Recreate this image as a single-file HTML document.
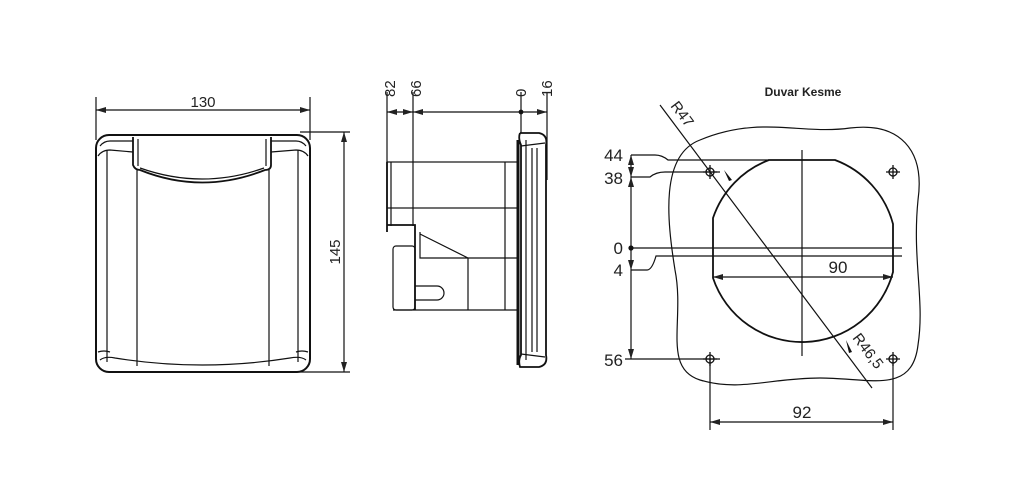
<!DOCTYPE html>
<html><head><meta charset="utf-8"><style>
html,body{margin:0;padding:0;background:#fff;width:1024px;height:498px;overflow:hidden}
svg{display:block}
text{font-family:"Liberation Sans",sans-serif;fill:#222}
</style></head><body>
<svg width="1024" height="498" viewBox="0 0 1024 498" xmlns="http://www.w3.org/2000/svg">
<defs>
<marker id="a" viewBox="0 0 10 6" refX="10" refY="3" markerWidth="10" markerHeight="6" orient="auto-start-reverse" markerUnits="userSpaceOnUse"><path d="M0,0 L10,3 L0,6 Z" fill="#222"/></marker>
</defs>
<g fill="none" stroke="#111" stroke-width="1.2">
<!-- LEFT FRONT VIEW -->
<line x1="96" y1="97" x2="96" y2="140"/><line x1="310" y1="97" x2="310" y2="140"/>
<line x1="96" y1="110" x2="310" y2="110" marker-start="url(#a)" marker-end="url(#a)"/>
<line x1="300" y1="132" x2="350" y2="132"/><line x1="300" y1="372" x2="350" y2="372"/>
<line x1="344" y1="132" x2="344" y2="372" marker-start="url(#a)" marker-end="url(#a)"/>
<rect x="96" y="135" width="214" height="237" rx="13" stroke-width="2"/>
<line x1="107" y1="150" x2="107" y2="362"/><line x1="298" y1="150" x2="298" y2="362"/>
<path d="M100,146 Q104,141 110,141 L133,141 M271,141 L296,141 Q302,141 306,146"/>
<path d="M98,156 Q102,150 110,150 L133,152 M271,152 L296,150 Q304,150 308,156"/>
<path d="M133,137 L133,165 Q135,170 140,170 Q202,195 265,170 Q271,170 271,165 L271,137" stroke-width="1.8"/>
<path d="M138,139 L138,166 M266,139 L266,166 M140,168 Q202,190 264,168"/>
<line x1="137" y1="170" x2="137" y2="366"/><line x1="269" y1="170" x2="269" y2="366"/>
<path d="M100,360 Q105,356 115,358 Q202,372 290,358 Q301,356 306,360"/>
<path d="M98,352 Q104,350 110,352 M296,352 Q302,350 308,352"/>
<!-- MIDDLE SIDE VIEW -->
<line x1="387" y1="92" x2="387" y2="162"/><line x1="413" y1="92" x2="413" y2="226"/>
<line x1="521" y1="92" x2="521" y2="133"/><line x1="547" y1="92" x2="547" y2="180"/>
<line x1="387" y1="112" x2="413" y2="112" marker-start="url(#a)" marker-end="url(#a)"/>
<line x1="413" y1="112" x2="521" y2="112" marker-start="url(#a)"/>
<line x1="521" y1="112" x2="547" y2="112" marker-end="url(#a)"/>
<circle cx="521" cy="112" r="1.8" fill="#111"/>
<rect x="387" y="162" width="131" height="46"/>
<line x1="391" y1="162" x2="391" y2="226"/>
<line x1="505" y1="162" x2="505" y2="310"/>
<path d="M387,162 L387,232 M387,225 L415,225 L415,310" stroke-width="1.8"/>
<path d="M420,232 L420,258 L468,258 L420,234"/>
<line x1="468" y1="258" x2="518" y2="258"/>
<line x1="468" y1="258" x2="468" y2="310"/>
<rect x="393" y="246" width="22" height="64" rx="3"/>
<path d="M415,286 L437,286 A7,7 0 0 1 437,300 L415,300"/>
<line x1="393" y1="310" x2="518" y2="310"/>
<line x1="518" y1="140" x2="518" y2="365" stroke-width="3"/>
<path d="M520,133 L539,133 Q548,135 546,145 L546,355 Q548,365 539,367 L520,367 Q518,360 521,355 L521,145 Q518,138 520,133" stroke-width="1.8"/>
<line x1="526" y1="140" x2="526" y2="360"/><line x1="532" y1="148" x2="532" y2="352"/><line x1="537" y1="148" x2="537" y2="352"/>
<path d="M521,146 L545,143 M521,354 L545,357"/>
<!-- RIGHT CUTOUT -->
<path d="M700,140 C760,115 800,135 850,128 C900,122 925,150 918,200 C912,260 925,300 918,345 C912,395 870,378 820,378 C770,378 740,392 700,380 C662,368 685,320 675,270 C667,220 660,155 700,140 Z"/>
<path d="M713,278 L713,218 A94,94 0 0 1 769,160 L835,160 A94,94 0 0 1 893,224 L893,272 A94,94 0 0 1 713,278 Z" stroke-width="1.8"/>
<line x1="802" y1="150" x2="802" y2="356"/>
<line x1="631" y1="248" x2="902" y2="248"/>
<path d="M631,155 L655,155 Q662,155 668,160 L769,160"/>
<path d="M631,177 L650,177 Q656,172 665,172 L720,172"/>
<path d="M631,270 L647,270 Q652,270 656,256 L902,256"/>
<line x1="631" y1="155" x2="631" y2="177" marker-start="url(#a)" marker-end="url(#a)"/>
<line x1="631" y1="177" x2="631" y2="248" marker-start="url(#a)"/>
<line x1="631" y1="248" x2="631" y2="270" marker-end="url(#a)"/>
<line x1="631" y1="270" x2="631" y2="359" marker-end="url(#a)"/>
<line x1="625" y1="359" x2="720" y2="359"/>
<circle cx="631" cy="248" r="2" fill="#111"/>
<line x1="713" y1="277" x2="893" y2="277" marker-start="url(#a)" marker-end="url(#a)"/>
<line x1="660" y1="105" x2="872" y2="388"/>
<line x1="710" y1="359" x2="710" y2="430"/><line x1="893" y1="359" x2="893" y2="430"/>
<line x1="710" y1="422" x2="893" y2="422" marker-start="url(#a)" marker-end="url(#a)"/>
<g stroke-width="1.3">
<circle cx="710" cy="172" r="4"/><path d="M703,172h14M710,165v14"/>
<circle cx="893" cy="172" r="4"/><path d="M886,172h14M893,165v14"/>
<circle cx="710" cy="359" r="4"/><path d="M703,359h14M710,352v14"/>
<circle cx="893" cy="359" r="4"/><path d="M886,359h14M893,352v14"/>
</g>
</g>
<path d="M724,170 L732,180 L729,181 Z" fill="#111"/>
<path d="M846,340 L852,352 L849,353 Z" fill="#111"/>
<g font-size="15">
<text x="203" y="107" text-anchor="middle">130</text>
<text transform="translate(340,252) rotate(-90)" text-anchor="middle">145</text>
<text transform="translate(395,97) rotate(-90)">82</text>
<text transform="translate(421,97) rotate(-90)">66</text>
<text transform="translate(526,97) rotate(-90)">0</text>
<text transform="translate(552,97) rotate(-90)">16</text>
</g>
<g font-size="17">
<text x="623" y="161" text-anchor="end">44</text>
<text x="623" y="184" text-anchor="end">38</text>
<text x="623" y="254" text-anchor="end">0</text>
<text x="623" y="276" text-anchor="end">4</text>
<text x="623" y="366" text-anchor="end">56</text>
<text x="838" y="273" text-anchor="middle">90</text>
<text x="802" y="418" text-anchor="middle">92</text>
<text transform="translate(670,106) rotate(53)" font-size="15">R47</text>
<text transform="translate(852,338) rotate(53)" font-size="15">R46,5</text>
</g>
<text x="803" y="96" text-anchor="middle" font-size="12" font-weight="bold">Duvar Kesme</text>
</svg>
</body></html>
